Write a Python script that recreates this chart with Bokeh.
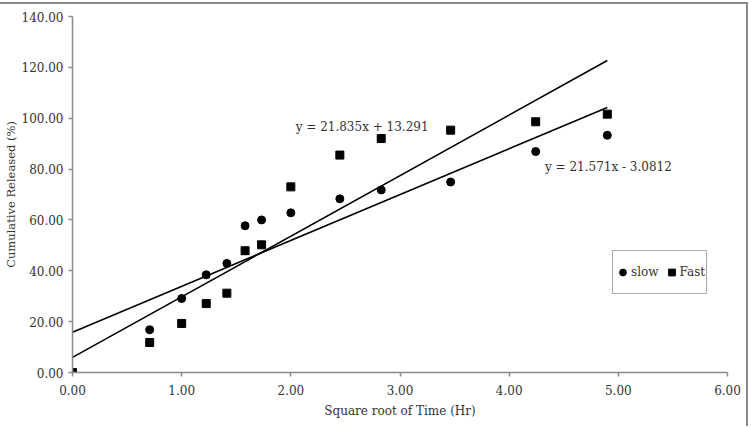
import numpy as np
from bokeh.plotting import figure
from bokeh.models import Range1d, Legend, LegendItem, Label, FixedTicker, CustomJSTickFormatter
from bokeh.embed import file_html
from bokeh.resources import INLINE

# ---- data ----
sqrt_time = [0.0, 0.707, 1.0, 1.225, 1.414, 1.581, 1.732, 2.0, 2.449, 2.828, 3.464, 4.243, 4.899]
slow = [0.0, 16.8, 29.1, 38.4, 42.9, 57.7, 60.0, 62.8, 68.3, 71.8, 74.9, 86.9, 93.3]
fast = [0.0, 11.8, 19.3, 27.1, 31.2, 47.9, 50.2, 73.0, 85.5, 92.0, 95.3, 98.6, 101.6]
x_ticks = [0, 1, 2, 3, 4, 5, 6]
y_ticks = [0, 20, 40, 60, 80, 100, 120, 140]
eq_fast_text = "y = 21.835x + 13.291"
eq_slow_text = "y = 21.571x - 3.0812"

FONT = "DejaVu Serif"
TXT = "#333333"
AX = "#8a8a8a"

p = figure(width=748, height=424, output_backend="svg", toolbar_location=None,
           x_range=Range1d(0, 6), y_range=Range1d(0, 140),
           min_border_left=72, min_border_right=21, min_border_top=12, min_border_bottom=56)
p.styles = {"margin-top": "2px", "border-top": "2px solid #8a8a8a", "border-right": "2px solid #8a8a8a"}
p.outline_line_color = None
p.grid.visible = False

for ax in (p.xaxis[0], p.yaxis[0]):
    ax.axis_line_color = AX
    ax.axis_line_width = 1.5
    ax.major_tick_line_color = AX
    ax.major_tick_line_width = 1.5
    ax.major_tick_out = 4
    ax.major_tick_in = 0
    ax.minor_tick_line_color = None
    ax.major_label_text_font = FONT
    ax.major_label_text_font_size = "12px"
    ax.major_label_text_color = TXT
    ax.axis_label_text_font = FONT
    ax.axis_label_text_font_size = "12px"
    ax.axis_label_text_font_style = "normal"
    ax.axis_label_text_color = TXT
    ax.formatter = CustomJSTickFormatter(code="return tick.toFixed(2);")

p.xaxis[0].ticker = FixedTicker(ticks=x_ticks)
p.yaxis[0].ticker = FixedTicker(ticks=y_ticks)
p.xaxis[0].axis_label = "Square root of Time (Hr)"
p.yaxis[0].axis_label = "Cumulative Released (%)"
p.xaxis[0].major_label_standoff = 8
p.xaxis[0].axis_label_standoff = 6
p.yaxis[0].major_label_standoff = 5
p.yaxis[0].axis_label_standoff = 1
p.yaxis[0].axis_label_text_font_size = "11.5px"

# trend lines (least squares from the data)
x = np.array(sqrt_time)
xl = np.array([0.0, x.max()])
ms, bs = np.polyfit(x, np.array(slow), 1)
mf, bf = np.polyfit(x, np.array(fast), 1)
p.line(xl, ms * xl + bs, line_color="black", line_width=1.6)
p.line(xl, mf * xl + bf, line_color="black", line_width=1.6)

r_slow = p.scatter(sqrt_time, slow, marker="circle", size=8, color="black")
r_fast = p.scatter(sqrt_time, fast, marker="square", size=8, color="black")

p.add_layout(Label(x=2.653, y=96.6, text=eq_fast_text, text_align="center", text_baseline="middle",
                   text_font=FONT, text_font_size="12px", text_color=TXT))
p.add_layout(Label(x=4.909, y=80.9, text=eq_slow_text, text_align="center", text_baseline="middle",
                   text_font=FONT, text_font_size="12px", text_color=TXT))

legend = Legend(items=[LegendItem(label="slow", renderers=[r_slow]),
                       LegendItem(label="Fast", renderers=[r_fast])],
                orientation="horizontal", location=(540, 78))
legend.padding = 1
legend.margin = 0
legend.spacing = 4
legend.glyph_width = 17
legend.glyph_height = 40
legend.label_standoff = 0
legend.label_text_font = FONT
legend.label_text_font_size = "12px"
legend.label_text_color = TXT
legend.border_line_color = "#555555"
legend.border_line_width = 1
legend.background_fill_alpha = 1
p.add_layout(legend)

open("out.html", "w").write(file_html(p, INLINE))
